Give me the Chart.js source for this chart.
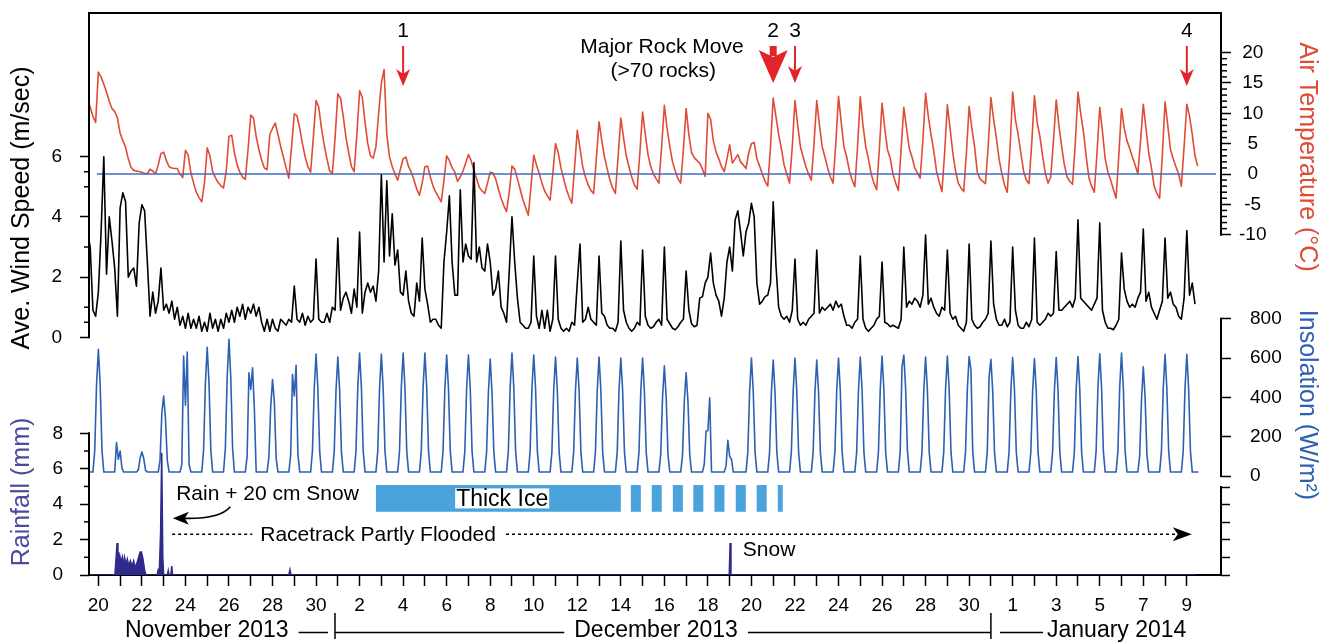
<!DOCTYPE html>
<html>
<head>
<meta charset="utf-8">
<title>Racetrack Playa weather, Nov 2013 - Jan 2014</title>
<script src="https://cdn.jsdelivr.net/npm/chart.js@4.4.1/dist/chart.umd.min.js"></script>
<style>
  html, body { margin: 0; padding: 0; background: #fff; }
  #wrap { position: relative; width: 1329px; height: 643px; }
</style>
</head>
<body>
<div id="wrap"><canvas id="weatherChart" width="1329" height="643"></canvas></div>
<script>
// x is "days after Nov 20 2013", ticks sit at local noon of each day
const xTickLabels = ['20','','22','','24','','26','','28','','30','','2','','4','','6','','8','','10','','12','','14','','16','','18','','20','','22','','24','','26','','28','','30','','1','','3','','5','','7','','9'];

// air temperature (deg C), every 3 h starting at midnight before Nov 20
const tempC = [
  12.5, 11.0, 9.5, 8.5, 16.8, 16.0, 14.8, 13.5,
  12.0, 10.8, 10.3, 9.3, 6.7, 5.5, 4.4, 2.5,
  1.1, 0.6, 0.5, 0.4, 0.3, 0.1, 0.0, 0.8,
  0.5, 0.0, 1.5, 3.4, 3.6, 2.2, 1.2, 1.0,
  0.9, 0.9, 0.0, -0.6, 3.9, 3.1, 0.2, -1.5,
  -3.0, -3.9, -4.6, -1.5, 4.3, 3.0, 0.4, -0.6,
  -1.4, -1.9, -2.3, 0.5, 6.2, 6.4, 3.5, 1.5,
  0.3, -0.5, -0.9, 4.0, 9.7, 9.2, 6.2, 4.0,
  2.3, 1.0, 0.7, 6.5, 7.5, 8.4, 6.5, 4.5,
  2.8, 1.0, -0.7, 4.5, 9.9, 9.6, 7.5, 5.0,
  2.8, 1.2, 0.3, 6.0, 12.1, 11.0, 7.5, 4.8,
  2.5, 0.5, 0.1, 6.0, 13.2, 12.5, 9.5, 6.0,
  3.5, 1.2, 0.4, 6.5, 13.7, 12.6, 8.5, 5.0,
  3.0, 2.6, 4.5, 10.0, 15.0, 17.2, 6.5, 2.8,
  1.2, 0.0, -1.0, 0.8, 2.5, 2.8, 1.2, 0.3,
  -1.0, -2.5, -3.5, -1.5, 1.2, 1.3, -0.5, -2.0,
  -3.0, -3.8, -4.6, -1.0, 3.0, 2.2, 1.0, 0.3,
  -1.2, -0.5, 0.5, 1.8, 3.2, 2.2, 0.6, -0.8,
  -2.2, -2.8, -3.2, -1.5, 0.3, 0.2, -0.8, -2.5,
  -4.0, -5.2, -6.2, -3.0, 1.3, 0.8, -0.8, -2.5,
  -4.2, -5.5, -6.8, -2.0, 3.1, 1.5, 0.1, -1.5,
  -2.8, -3.6, -4.3, 0.0, 5.0, 3.5, 1.0, -0.8,
  -2.5, -3.8, -4.8, 1.0, 7.2, 4.2, 1.2, -0.5,
  -1.8, -2.7, -3.2, 2.5, 8.6, 5.5, 2.8, 0.8,
  -1.0, -2.3, -3.2, 2.8, 9.2, 6.0, 3.0, 1.2,
  -0.5, -1.8, -2.5, 3.5, 10.2, 6.5, 3.2, 1.2,
  0.0, -0.8, -1.5, 4.5, 11.3, 7.5, 4.5, 2.0,
  0.5, -0.8, -1.5, 4.0, 10.8, 6.5, 3.5, 2.7,
  2.2, 1.8, 0.8, -0.4, 10.0, 9.0, 5.5, 3.6,
  2.5, 1.2, 0.4, 2.5, 4.8, 1.8, 2.5, 3.2,
  2.0, 1.5, 0.9, 3.5, 5.0, 5.2, 2.5, 1.3,
  0.0, -1.2, -2.0, 4.5, 12.5, 9.5, 6.5, 4.2,
  1.5, 0.0, -1.5, 4.5, 12.1, 8.0, 4.5, 2.8,
  1.2, 0.0, -1.0, 5.0, 12.1, 8.0, 4.5, 2.8,
  1.0, -0.5, -1.5, 5.0, 12.8, 8.5, 4.5, 2.8,
  0.5, -1.0, -2.1, 4.5, 12.7, 8.0, 4.5, 2.5,
  0.0, -1.5, -2.6, 4.0, 11.7, 7.5, 4.0, 2.6,
  0.0, -1.5, -2.7, 4.0, 11.0, 7.5, 4.2, 2.8,
  1.0, 0.2, -0.7, 5.5, 13.3, 9.5, 6.5, 3.8,
  0.5, -1.3, -2.9, 3.5, 11.4, 7.5, 3.5, 0.5,
  -1.5, -2.3, -2.9, 3.5, 11.1, 7.5, 4.5, 0.3,
  -0.8, -1.2, -1.6, 4.5, 12.6, 9.0, 6.0, 2.5,
  0.1, -1.8, -3.0, 4.0, 13.5, 9.0, 6.5, 3.5,
  0.5, -1.0, -1.6, 5.0, 12.9, 8.5, 6.2, 3.0,
  0.1, -1.5, -0.5, 5.5, 12.2, 8.0, 4.5, 1.5,
  -0.5, -1.2, -1.7, 5.0, 13.5, 10.0, 7.0, 3.0,
  -0.6, -2.0, -3.0, 3.5, 11.0, 7.0, 2.5, 0.3,
  -1.0, -2.5, -4.0, 3.0, 10.8, 7.5, 5.5, 4.2,
  2.8, 1.5, 0.0, 5.5, 11.5, 7.5, 3.5, 1.0,
  -2.0, -3.2, -4.0, 3.0, 11.9, 8.0, 4.0, 2.5,
  1.2, 0.0, -2.0, 4.5, 11.5, 9.5, 6.5, 3.0,
  1.3
];

// average wind speed (m/s), same 3 h grid
const windMs = [
  3.5, 3.0, 0.9, 0.7, 1.5, 3.5, 6.0, 2.1,
  4.0, 3.2, 2.3, 0.7, 4.3, 4.8, 4.5, 2.0,
  2.2, 2.3, 1.7, 3.8, 4.4, 4.2, 2.5, 0.7,
  1.5, 0.8, 1.2, 2.3, 0.9, 1.1, 0.8, 1.2,
  0.6, 1.0, 0.4, 0.7, 0.3, 0.8, 0.3, 0.6,
  0.3, 0.7, 0.2, 0.5, 0.2, 0.8, 0.3, 0.6,
  0.2, 0.6, 0.3, 0.8, 0.5, 0.9, 0.5, 1.0,
  0.7, 1.1, 0.6, 1.0, 0.8, 1.1, 0.7, 1.0,
  0.5, 0.2, 0.6, 0.2, 0.6, 0.3, 0.2, 0.6,
  0.5, 0.4, 0.6, 0.5, 1.7, 0.6, 0.5, 0.8,
  0.4, 0.7, 0.5, 0.6, 2.6, 0.6, 0.5, 0.5,
  0.8, 0.5, 1.0, 0.9, 3.3, 0.9, 1.3, 1.5,
  1.2, 0.8, 1.6, 1.0, 3.5, 0.8, 1.5, 1.8,
  1.5, 1.7, 1.2, 2.2, 5.4, 2.5, 5.2, 2.7,
  4.1, 2.4, 2.9, 1.5, 1.4, 2.2, 1.2, 0.8,
  0.7, 1.8, 1.2, 3.3, 1.6, 1.1, 0.5, 0.6,
  0.6, 0.4, 0.3, 2.5, 3.5, 4.7, 2.5, 1.4,
  1.4, 4.9, 2.5, 3.1, 2.7, 2.6, 5.8, 2.5,
  3.0, 2.3, 2.2, 3.1, 2.5, 1.4, 1.6, 2.2,
  1.0, 0.8, 0.5, 2.2, 4.0, 2.5, 1.3, 0.5,
  0.4, 0.3, 0.3, 0.5, 2.7, 0.7, 0.3, 0.9,
  0.3, 0.9, 0.2, 0.6, 2.7, 0.6, 0.3, 0.2,
  0.3, 0.2, 0.5, 0.4, 1.8, 3.1, 0.5, 0.6,
  1.0, 0.6, 0.5, 0.4, 2.7, 0.8, 0.7, 0.4,
  0.3, 0.3, 0.2, 0.5, 3.2, 0.9, 0.5, 0.3,
  0.2, 0.3, 0.5, 0.4, 2.9, 0.7, 0.4, 0.3,
  0.35, 0.5, 0.6, 0.4, 3.0, 0.6, 0.45, 0.3,
  0.25, 0.35, 0.5, 0.6, 2.2, 0.9, 0.45, 0.35,
  0.4, 1.3, 1.35, 1.8, 2.0, 2.8, 1.8, 1.4,
  1.2, 0.7, 1.3, 2.5, 3.0, 2.2, 3.9, 4.2,
  3.5, 2.7, 3.5, 3.8, 4.45, 4.0, 1.8, 1.1,
  1.2, 1.35, 1.4, 1.8, 4.5, 2.4, 1.0, 0.7,
  0.6, 0.7, 0.5, 0.9, 2.6, 0.6, 0.4, 0.5,
  0.4, 0.6, 0.7, 0.8, 2.9, 0.8, 1.0, 0.9,
  1.0, 1.1, 0.9, 1.2, 1.0, 1.1, 0.7, 0.4,
  0.4, 0.3, 0.5, 0.6, 2.7, 0.6, 0.3, 0.2,
  0.3, 0.4, 0.6, 0.7, 2.5, 0.5, 0.45, 0.35,
  0.4, 0.35, 0.3, 0.6, 3.0, 1.0, 1.2, 1.1,
  1.3, 1.2, 1.0, 1.4, 3.4, 1.1, 1.3, 1.0,
  0.8, 0.7, 1.0, 0.9, 2.9, 0.8, 0.6, 0.7,
  0.4, 0.3, 0.2, 0.5, 3.1, 0.6, 0.4, 0.3,
  0.35, 0.5, 0.6, 0.8, 3.2, 1.1, 0.6, 0.4,
  0.4, 0.6, 0.35, 0.5, 3.0, 0.9, 0.4, 0.3,
  0.3, 0.5, 0.35, 0.6, 3.3, 0.5, 0.4, 0.5,
  0.6, 0.8, 0.7, 0.8, 2.85, 0.9, 0.9, 1.0,
  1.1, 1.2, 1.0, 1.3, 3.9, 1.3, 1.2, 1.1,
  1.0, 0.9, 1.1, 1.3, 3.8, 0.9, 0.5, 0.3,
  0.3, 0.25, 0.4, 0.6, 2.8, 1.6, 1.2, 1.0,
  1.1, 1.0, 1.3, 1.5, 3.6, 1.2, 1.5, 1.0,
  0.8, 0.6, 0.9, 1.2, 3.3, 1.3, 1.5, 1.1,
  1.0, 0.7, 0.6, 1.3, 3.55, 1.4, 1.8, 1.1
];
const sampleStart = -0.5;
const samplesPerDay = 8;

// insolation (W/m2), one row per day, 06:00 to 18:00 every 2 h
const insolationRows = [
  [20,130,465,645,465,130,20], [20,170,85,127,40,20,20], [20,30,90,122,90,30,20],
  [20,80,322,407,290,80,20], [20,60,610,360,630,60,20], [20,130,470,655,470,130,20],
  [20,140,500,695,500,140,20], [20,100,525,440,550,340,20], [20,95,350,490,380,90,20],
  [20,105,517,407,563,110,20], [20,125,445,620,445,125,20], [20,120,435,605,435,120,20],
  [20,125,450,625,450,125,20], [20,125,445,620,445,125,20], [20,125,450,625,450,125,20],
  [20,125,450,625,450,125,20], [20,125,445,615,445,125,20], [20,125,445,615,445,125,20],
  [20,120,425,595,425,120,20], [20,125,450,625,450,125,20], [20,125,445,615,445,125,20],
  [20,120,435,605,435,120,20], [20,120,435,600,435,120,20], [20,120,435,605,435,120,20],
  [20,120,435,600,435,120,20], [20,120,430,600,430,120,20], [20,110,400,560,400,110,20],
  [20,105,380,525,380,105,20], [20,60,229,230,398,20,20], [20,50,181,100,85,20,20],
  [20,120,430,600,430,120,20], [20,120,425,590,425,120,20], [20,120,430,600,430,120,20],
  [20,120,425,590,425,120,20], [20,120,430,600,430,120,20], [20,120,435,605,435,120,20],
  [20,120,440,610,440,120,20], [20,125,554,615,445,125,20], [20,120,435,605,435,120,20],
  [20,120,440,610,440,120,20], [20,120,440,608,540,120,20], [20,120,503,593,430,120,20],
  [20,120,435,602,435,120,20], [20,120,430,598,430,120,20], [20,120,435,602,435,120,20],
  [20,120,440,608,440,120,20], [20,125,450,622,450,125,20], [20,125,450,625,450,125,20],
  [20,100,381,556,400,110,20], [20,125,445,619,445,125,20], [20,125,445,619,445,125,20]
];
const insNight = 20;
const insSpan = [-0.43, 50.53];

// rainfall (mm)
const rainDay = [-0.43, 0.76, 0.86, 0.9, 0.93, 0.97, 1.0, 1.05, 1.1, 1.15, 1.2, 1.27, 1.33, 1.4, 1.47, 1.55, 1.62, 1.7, 1.78, 1.85, 1.92, 1.98, 2.05, 2.12, 2.18, 2.7, 2.75, 2.8, 2.86, 2.91, 2.96, 3.0, 3.17, 3.21, 3.25, 3.33, 3.37, 3.41, 8.75, 8.8, 8.85, 28.98, 29.02, 29.06, 50.4];
const rainMm = [0, 0, 1.8, 0.9, 1.3, 0.6, 1.0, 0.7, 1.0, 0.5, 1.0, 0.6, 0.9, 0.5, 0.8, 0.5, 0.8, 0.4, 0.7, 1.0, 1.3, 1.3, 0.9, 0.3, 0, 0, 0.3, 0.2, 2.5, 6.9, 1.0, 0, 0, 0.25, 0, 0, 0.5, 0, 0, 0.3, 0, 0, 1.8, 0, 0];

const zeroLineDays = [-0.07, 51.34];

// tick lists
const windTicks = [0, 2, 4, 6], windMinor = [0.5, 1, 3, 5, 5.5];
const rainTicks = [0, 2, 4, 6, 8], rainMinor = [1, 3, 5, 7];
const rainRightTicks = [0, 1, 2, 3, 4, 5];
const tempTicks = [-10, -5, 0, 5, 10, 15, 20];
const tempMinor = [];
for (let t = -9; t < 20; t++) if (t % 5 !== 0) tempMinor.push(t);
const insTicks = [0, 200, 400, 600, 800];

// events
const rockMoveDays = [14, 31, 32, 50];
const rockMoveLabels = ['1', '2', '3', '4'];
const majorMoveDay = 31;
const thickIce = [12.75, 24.0];
const thinIce = [[24.46, 24.92], [25.42, 25.88], [26.39, 26.85], [27.33, 27.79], [28.3, 28.76], [29.28, 29.74], [30.24, 30.7], [31.21, 31.44]];
const floodDays = [3.39, 50.23];
const monthBreaks = [10.87, 41.0];

// ---- styling / layout ----
const FONT = '"Liberation Sans", Arial, Helvetica, sans-serif';
const tempColor = '#e04b36';
const arrowRed = '#e3232a';
const insColor = '#2d60b3';
const zeroColor = '#3f6dc2';
const rainColor = '#2e2b8c';
const rainTitle = '#4e4b9e';
const iceColor = '#4aa3dc';

// vertical bands in pixels for each axis, with the pixel of value 0 and pixels per unit
function axisRange(band, zeroPx, perUnit) {
  return { min: -(band[1] - zeroPx) / perUnit, max: (zeroPx - band[0]) / perUnit, weight: band[1] - band[0] };
}
const rWind = axisRange([13, 337.3], 337.3, 30.1);
const rRain = axisRange([337.3, 575], 575, 17.71);
const rTemp = axisRange([13, 245], 174, 6.07);
const rIns = axisRange([245, 480], 476, 0.1966);
const rRainR = axisRange([480, 575], 575, 17.6);

const toPoints = (vals) => vals.map((v, i) => ({ x: sampleStart + i / samplesPerDay, y: v }));
const insPoints = [{ x: insSpan[0], y: insNight }];
insolationRows.forEach((row, d) => row.forEach((v, j) => insPoints.push({ x: d - 0.25 + j / 12, y: v })));
insPoints.push({ x: insSpan[1], y: insNight });
const rainPoints = rainDay.map((d, i) => ({ x: d, y: rainMm[i] }));

function noOverflow(s) {
  s.paddingTop = 0; s.paddingBottom = 0; s.paddingLeft = 0; s.paddingRight = 0;
}

function yAxis(range, position, ticks, opts) {
  return {
    type: 'linear', position, stack: 'panels', stackWeight: range.weight, weight: opts.weight,
    min: range.min, max: range.max,
    border: { display: false },
    grid: { drawOnChartArea: false, drawTicks: true, tickLength: opts.tickLength, tickColor: '#000', tickWidth: 1.5 },
    ticks: Object.assign({ color: '#000', font: { size: 19 }, autoSkip: false }, opts.ticks),
    afterBuildTicks: (s) => { s.ticks = ticks.map(v => ({ value: v })); },
    afterFit: (s) => { s.width = position === 'left' ? 89 : 108; noOverflow(s); }
  };
}

function seg(ctx, x1, y1, x2, y2) {
  ctx.beginPath(); ctx.moveTo(x1, y1); ctx.lineTo(x2, y2); ctx.stroke();
}

function downArrow(ctx, x, yTop, yTip, bold) {
  ctx.fillStyle = arrowRed;
  ctx.strokeStyle = arrowRed;
  if (bold) {
    const head = yTip - 33;
    ctx.fillRect(x - 3.5, yTop, 7, head - yTop + 6);
    ctx.beginPath();
    ctx.moveTo(x - 14.5, head);
    ctx.lineTo(x, head + 7);
    ctx.lineTo(x + 14.5, head);
    ctx.lineTo(x, yTip);
    ctx.closePath();
    ctx.fill();
  } else {
    ctx.lineWidth = 2;
    seg(ctx, x, yTop, x, yTip - 10);
    ctx.beginPath();
    ctx.moveTo(x - 7, yTip - 17);
    ctx.lineTo(x, yTip - 12);
    ctx.lineTo(x + 7, yTip - 17);
    ctx.lineTo(x, yTip);
    ctx.closePath();
    ctx.fill();
  }
}

const annotations = {
  id: 'annotations',
  afterDraw(chart) {
    const { ctx, chartArea: a, scales: s } = chart;
    const X = v => s.x.getPixelForValue(v);
    const yr = v => s.yRain.getPixelForValue(v);
    const font = size => size + 'px ' + FONT;
    ctx.save();

    // frame pieces
    ctx.strokeStyle = '#000';
    ctx.lineWidth = 2;
    ctx.lineCap = 'square';
    seg(ctx, a.left, a.top, a.right, a.top);
    seg(ctx, a.left, a.top, a.left, s.yWind.getPixelForValue(0));
    seg(ctx, a.left, yr(8), a.left, a.bottom);
    seg(ctx, a.right, a.top, a.right, s.yTemp.getPixelForValue(-10));
    seg(ctx, a.right, s.yIns.getPixelForValue(800), a.right, s.yIns.getPixelForValue(0));
    seg(ctx, a.right, s.yRainR.getPixelForValue(5), a.right, a.bottom);
    ctx.lineCap = 'butt';

    // minor ticks
    ctx.lineWidth = 1.5;
    windMinor.forEach(v => { const y = s.yWind.getPixelForValue(v); seg(ctx, a.left - 5, y, a.left, y); });
    rainMinor.forEach(v => { const y = yr(v); seg(ctx, a.left - 5, y, a.left, y); });
    tempMinor.forEach(v => { const y = s.yTemp.getPixelForValue(v); seg(ctx, a.right, y, a.right + 6, y); });

    // axis titles
    const vtext = (txt, x, y, rot, color) => {
      ctx.save(); ctx.translate(x, y); ctx.rotate(rot);
      ctx.fillStyle = color; ctx.textAlign = 'center'; ctx.textBaseline = 'middle';
      ctx.fillText(txt, 0, 0); ctx.restore();
    };
    ctx.font = font(25);
    vtext('Ave. Wind Speed (m/sec)', 22, 208, -Math.PI / 2, '#000');
    vtext('Rainfall (mm)', 22, 492, -Math.PI / 2, rainTitle);
    vtext('Air Temperature (\u00B0C)', 1307, 157, Math.PI / 2, tempColor);
    vtext('Insolation (W/m\u00B2)', 1307, 405, Math.PI / 2, insColor);

    // rock movement arrows
    rockMoveDays.forEach((d, i) => {
      const x = X(d);
      const bold = d === majorMoveDay;
      const tip = (bold || i === 2) ? a.top + 70 : a.top + 73;
      downArrow(ctx, x, a.top + 33, tip, bold);
      ctx.fillStyle = '#000';
      ctx.font = font(21);
      ctx.textAlign = 'center';
      ctx.textBaseline = 'alphabetic';
      ctx.fillText(rockMoveLabels[i], x, a.top + 23.5);
    });
    ctx.fillStyle = '#000';
    ctx.font = font(21);
    ctx.textAlign = 'center';
    ctx.fillText('Major Rock Move', X(25.89), a.top + 40);
    ctx.fillText('(>70 rocks)', X(25.95), a.top + 64);

    // ice cover
    const iceTop = yr(5.08), iceBot = yr(3.57);
    ctx.fillStyle = iceColor;
    ctx.fillRect(X(thickIce[0]), iceTop, X(thickIce[1]) - X(thickIce[0]), iceBot - iceTop);
    thinIce.forEach(([d0, d1]) => ctx.fillRect(X(d0), iceTop, X(d1) - X(d0), iceBot - iceTop));
    ctx.font = font(23);
    const iw = ctx.measureText('Thick Ice').width;
    const icx = X(18.55), icy = (iceTop + iceBot) / 2;
    ctx.fillStyle = '#fff';
    ctx.fillRect(icx - iw / 2 - 1, icy - 10, iw + 2, 20);
    ctx.fillStyle = '#000';
    ctx.textBaseline = 'middle';
    ctx.fillText('Thick Ice', icx, icy + 1);

    // flooded playa
    ctx.font = font(21);
    const fy = yr(2.3);
    const ftxt = 'Racetrack Partly Flooded';
    const fw = ctx.measureText(ftxt).width;
    const fcx = X(12.85);
    ctx.fillText(ftxt, fcx, fy + 1);
    ctx.strokeStyle = '#000';
    ctx.lineWidth = 1.5;
    ctx.setLineDash([3, 3]);
    seg(ctx, X(floodDays[0]), fy, fcx - fw / 2 - 8, fy);
    const tipX = X(floodDays[1]);
    seg(ctx, fcx + fw / 2 + 10, fy, tipX - 14, fy);
    ctx.setLineDash([]);
    ctx.beginPath();
    ctx.moveTo(tipX, fy);
    ctx.lineTo(tipX - 19, fy - 7);
    ctx.lineTo(tipX - 14, fy);
    ctx.lineTo(tipX - 19, fy + 7);
    ctx.closePath();
    ctx.fill();

    // storm note with curved arrow
    ctx.fillText('Rain + 20 cm Snow', X(7.77), yr(4.57));
    ctx.lineWidth = 1.6;
    const hx = X(3.42), hy = yr(3.2);
    ctx.beginPath();
    ctx.moveTo(X(6.06), yr(3.86));
    ctx.quadraticCurveTo(X(5.59), yr(3.16), hx + 12, hy);
    ctx.stroke();
    ctx.beginPath();
    ctx.moveTo(hx, hy);
    ctx.lineTo(hx + 16, hy - 6.5);
    ctx.lineTo(hx + 12, hy);
    ctx.lineTo(hx + 16, hy + 6.5);
    ctx.closePath();
    ctx.fill();

    ctx.fillText('Snow', X(30.81), yr(1.41));

    // month captions
    ctx.font = font(23);
    ctx.textBaseline = 'alphabetic';
    const base = a.bottom + 62, ly = a.bottom + 57.5;
    ctx.lineWidth = 1.5;
    const nov = X(4.98), dec = X(25.62), jan = X(46.78);
    const wN = ctx.measureText('November 2013').width;
    const wD = ctx.measureText('December 2013').width;
    const wJ = ctx.measureText('January 2014').width;
    ctx.fillText('November 2013', nov, base);
    ctx.fillText('December 2013', dec, base);
    ctx.fillText('January 2014', jan, base);
    const b1 = X(monthBreaks[0]), b2 = X(monthBreaks[1]);
    seg(ctx, nov + wN / 2 + 10, ly, b1 - 7, ly);
    seg(ctx, b1, a.bottom + 38, b1, a.bottom + 64);
    seg(ctx, b1, ly, dec - wD / 2 - 10, ly);
    seg(ctx, dec + wD / 2 + 10, ly, b2, ly);
    seg(ctx, b2, a.bottom + 38, b2, a.bottom + 64);
    seg(ctx, b2 + 9, ly, jan - wJ / 2 - 4, ly);

    ctx.restore();
  }
};

Chart.defaults.font.family = FONT;
Chart.defaults.color = '#000';

new Chart(document.getElementById('weatherChart'), {
  type: 'line',
  data: {
    datasets: [
      { label: 'Wind speed', data: toPoints(windMs), yAxisID: 'yWind', borderColor: '#000', borderWidth: 1.6, borderJoinStyle: 'round', pointRadius: 0, tension: 0, order: 1 },
      { label: '0 \u00B0C', data: zeroLineDays.map(d => ({ x: d, y: 0 })), yAxisID: 'yTemp', borderColor: zeroColor, borderWidth: 1.6, pointRadius: 0, order: 2 },
      { label: 'Air temperature', data: toPoints(tempC), yAxisID: 'yTemp', borderColor: tempColor, borderWidth: 1.6, borderJoinStyle: 'round', pointRadius: 0, tension: 0, order: 3 },
      { label: 'Insolation', data: insPoints, yAxisID: 'yIns', borderColor: insColor, borderWidth: 1.6, borderJoinStyle: 'round', pointRadius: 0, tension: 0, order: 4 },
      { label: 'Rainfall', data: rainPoints, yAxisID: 'yRain', borderColor: rainColor, backgroundColor: rainColor, fill: 'origin', borderWidth: 1.5, pointRadius: 0, tension: 0, order: 5 }
    ]
  },
  options: {
    responsive: false,
    animation: false,
    events: [],
    layout: { padding: { top: 13, left: 0, right: 0, bottom: 0 } },
    plugins: { legend: { display: false }, tooltip: { enabled: false } },
    scales: {
      x: {
        type: 'linear', position: 'bottom', min: -0.43, max: 51.57,
        border: { display: true, color: '#000', width: 2 },
        grid: { drawOnChartArea: false, drawTicks: true, tickLength: 11, tickColor: '#000', tickWidth: 1.5 },
        ticks: { autoSkip: false, maxRotation: 0, padding: 8, font: { size: 19 }, color: '#000',
                 callback: (v, i) => xTickLabels[i] },
        afterBuildTicks: (s) => { s.ticks = xTickLabels.map((_, i) => ({ value: i })); },
        afterFit: (s) => { s.height = 68; noOverflow(s); }
      },
      // left side stacks in descending weight from the top, right side ascending
      yWind: yAxis(rWind, 'left', windTicks, { weight: 2, tickLength: 9, ticks: { padding: 18 } }),
      yRain: yAxis(rRain, 'left', rainTicks, { weight: 1, tickLength: 9, ticks: { padding: 17 } }),
      yTemp: yAxis(rTemp, 'right', tempTicks, { weight: 1, tickLength: 10, ticks: { padding: 8, crossAlign: 'center' } }),
      yIns: yAxis(rIns, 'right', insTicks, { weight: 2, tickLength: 10, ticks: { padding: 19 } }),
      yRainR: yAxis(rRainR, 'right', rainRightTicks, { weight: 3, tickLength: 9, ticks: { callback: () => '' } })
    }
  },
  plugins: [annotations]
});
</script>
</body>
</html>
